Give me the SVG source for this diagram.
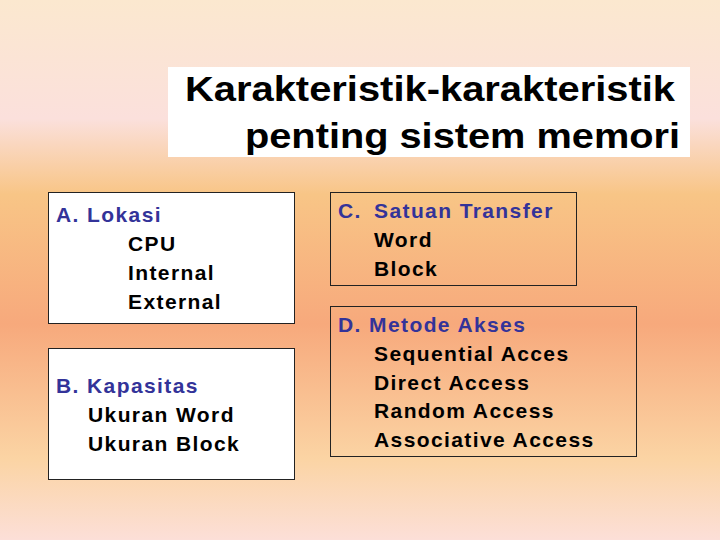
<svg xmlns="http://www.w3.org/2000/svg" width="720" height="540" viewBox="0 0 720 540">
<defs>
<linearGradient id="bg" x1="0" y1="0" x2="0" y2="1">
<stop offset="0" stop-color="#fbe8cf"/>
<stop offset="0.22" stop-color="#fbe0dc"/>
<stop offset="0.36" stop-color="#f8c586"/>
<stop offset="0.6" stop-color="#f7a97c"/>
<stop offset="0.85" stop-color="#fbd4a4"/>
<stop offset="1" stop-color="#fcdfd8"/>
</linearGradient>
<style>
text{font-family:"Liberation Sans",Arial,sans-serif;font-size:21px;font-weight:bold;letter-spacing:1.4px;fill:#000}
.h{fill:#333399}
.t{font-size:35px;letter-spacing:0}
.box{stroke:#222;stroke-width:1}
</style>
</defs>
<rect width="720" height="540" fill="url(#bg)"/>
<g id="title">
<rect x="168" y="67" width="522" height="90" fill="#fff"/>
<text class="t" x="185" y="101" textLength="490" lengthAdjust="spacingAndGlyphs">Karakteristik-karakteristik</text>
<text class="t" x="245" y="148" textLength="435" lengthAdjust="spacingAndGlyphs">penting sistem memori</text>
</g>
<g id="nodeA">
<rect class="box" x="48.5" y="192.5" width="246" height="131" fill="#fff"/>
<text class="h" x="56" y="222">A. Lokasi</text>
<text x="128" y="251">CPU</text>
<text x="128" y="280">Internal</text>
<text x="128" y="309">External</text>
</g>
<g id="nodeB">
<rect class="box" x="48.5" y="348.5" width="246" height="131" fill="#fff"/>
<text class="h" x="56" y="393">B. Kapasitas</text>
<text x="88" y="422">Ukuran Word</text>
<text x="88" y="451">Ukuran Block</text>
</g>
<g id="nodeC">
<rect class="box" x="330.5" y="192.5" width="246" height="93" fill="none"/>
<text class="h" x="338" y="218">C.</text>
<text class="h" x="374" y="218">Satuan Transfer</text>
<text x="374" y="247">Word</text>
<text x="374" y="276">Block</text>
</g>
<g id="nodeD">
<rect class="box" x="330.5" y="306.5" width="306" height="150" fill="none"/>
<text class="h" x="338" y="332">D. Metode Akses</text>
<text x="374" y="361">Sequential Acces</text>
<text x="374" y="390">Direct Access</text>
<text x="374" y="418">Random Access</text>
<text x="374" y="447">Associative Access</text>
</g>
<g id="connectors"/>
</svg>
